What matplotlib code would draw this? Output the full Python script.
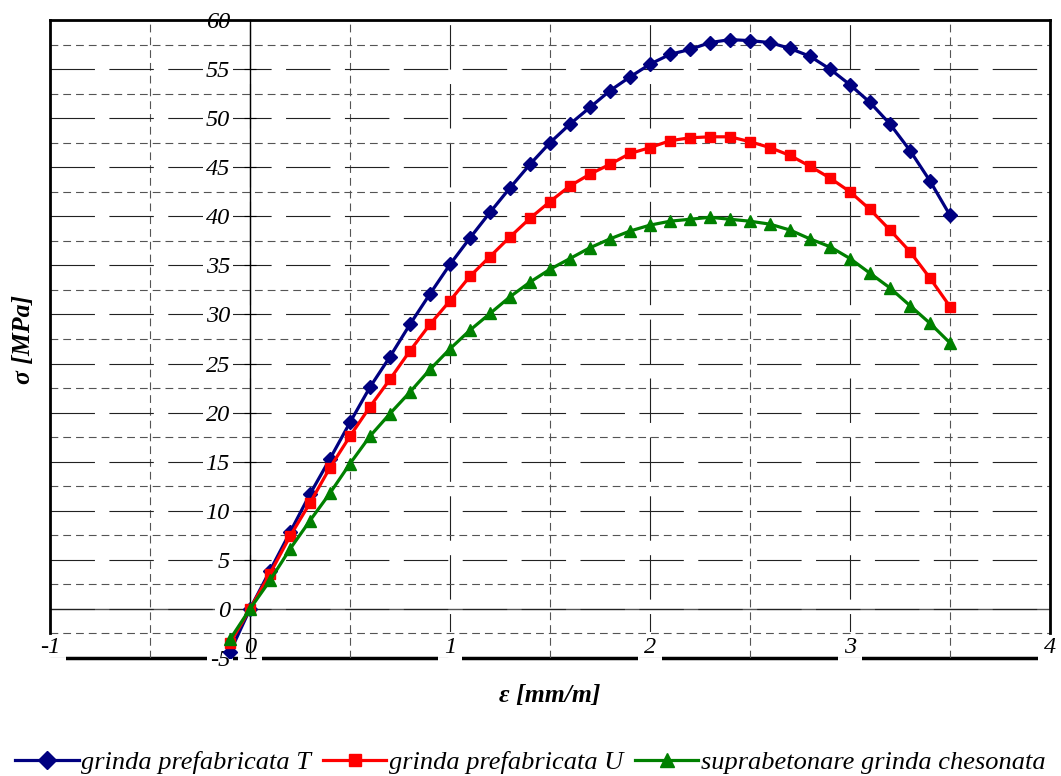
import matplotlib
matplotlib.use('Agg')
import matplotlib.pyplot as plt
from matplotlib.ticker import MultipleLocator

plt.rcParams['font.family'] = ['Liberation Serif', 'DejaVu Serif']
plt.rcParams['font.style'] = 'italic'

# date
eps = [-0.1, 0.0, 0.1, 0.2, 0.3, 0.4, 0.5, 0.6, 0.7, 0.8, 0.9,
       1.0, 1.1, 1.2, 1.3, 1.4, 1.5, 1.6, 1.7, 1.8, 1.9,
       2.0, 2.1, 2.2, 2.3, 2.4, 2.5, 2.6, 2.7, 2.8, 2.9,
       3.0, 3.1, 3.2, 3.3, 3.4, 3.5]

sigma_T = [-4.4, 0.0, 3.9, 7.8, 11.7, 15.3, 19.0, 22.6, 25.7, 29.0, 32.1,
           35.1, 37.8, 40.4, 42.9, 45.3, 47.5, 49.4, 51.1, 52.8, 54.2,
           55.5, 56.5, 57.0, 57.7, 58.0, 57.9, 57.7, 57.1, 56.3, 55.0,
           53.4, 51.6, 49.4, 46.7, 43.6, 40.1]

sigma_U = [-3.5, 0.0, 3.6, 7.4, 10.8, 14.4, 17.6, 20.6, 23.4, 26.3, 29.0,
           31.4, 33.9, 35.9, 37.9, 39.8, 41.5, 43.1, 44.3, 45.3, 46.4,
           47.0, 47.7, 48.0, 48.1, 48.1, 47.6, 47.0, 46.2, 45.1, 43.9,
           42.5, 40.7, 38.6, 36.4, 33.7, 30.8]

sigma_C = [-3.1, 0.0, 2.9, 6.1, 9.0, 11.8, 14.8, 17.6, 19.9, 22.1, 24.4,
           26.5, 28.4, 30.1, 31.8, 33.3, 34.6, 35.7, 36.8, 37.7, 38.5,
           39.1, 39.5, 39.7, 39.9, 39.7, 39.5, 39.2, 38.6, 37.7, 36.9,
           35.7, 34.2, 32.7, 30.9, 29.1, 27.1]

labels = ['grinda prefabricata T', 'grinda prefabricata U',
          'suprabetonare grinda chesonata']

x_ticks = [-1, 0, 1, 2, 3, 4]
y_ticks = [-5, 0, 5, 10, 15, 20, 25, 30, 35, 40, 45, 50, 55, 60]

fig = plt.figure(figsize=(10.61, 7.76), dpi=100)
ax = fig.add_axes([0.04713, 0.15206, 0.94251, 0.82217])

ax.plot(eps, sigma_T, color='#000080', lw=2.3, marker='D', ms=7.5, label=labels[0], zorder=3)
ax.plot(eps, sigma_U, color='#ff0000', lw=2.3, marker='s', ms=7.5, label=labels[1], zorder=3)
ax.plot(eps, sigma_C, color='#008000', lw=2.3, marker='^', ms=8.5, label=labels[2], zorder=3)

ax.set_xticks(x_ticks)
ax.set_xticklabels([str(v) for v in x_ticks])
ax.set_yticks(y_ticks)
ax.set_yticklabels([str(v) for v in y_ticks])
ax.xaxis.set_minor_locator(MultipleLocator(0.5))
ax.yaxis.set_minor_locator(MultipleLocator(2.5))
ax.set_xlim(-1, 4)
ax.set_ylim(-5, 60)

# grila
long_dash = (0, (40, 13))
short_dash = (0, (7, 4.5))
ax.grid(True, which='major', axis='both', color='#222222', lw=0.8, linestyle=long_dash)
ax.grid(True, which='minor', axis='both', color='#555555', lw=0.8, linestyle=short_dash)
xt = ax.xaxis.get_major_ticks()
xt[0].gridline.set_visible(False)
xt[-1].gridline.set_visible(False)
ax.axhline(0, color='#555555', lw=1.0, zorder=1.2)

# rama
for s in ['top', 'right', 'bottom']:
    ax.spines[s].set_visible(False)
ax.spines['left'].set_position(('data', 0))
ax.spines['left'].set_linewidth(1.0)
fr = 2.5 / 65
ax.axvline(-1, ymin=fr, ymax=1, color='black', lw=2, zorder=2.6, clip_on=False)
ax.axvline(4, ymin=fr, ymax=1, color='black', lw=2, zorder=2.6, clip_on=False)
ax.axhline(60, color='black', lw=2, zorder=2.6, clip_on=False)
ax.axhline(-5, color='black', lw=2.5, zorder=1.2, clip_on=False)

ax.tick_params(axis='x', which='both', length=0, pad=-15, labelsize=17.5)
ax.tick_params(axis='y', which='major', direction='inout', length=9, width=0.8, pad=10, labelsize=17.5)
ax.tick_params(axis='y', which='minor', length=0)
for lab in ax.get_xticklabels():
    lab.set_fontstyle('italic')
    lab.set_bbox(dict(facecolor='white', edgecolor='none', pad=4))
for lab in ax.get_yticklabels():
    lab.set_fontstyle('italic')
    lab.set_bbox(dict(facecolor='white', edgecolor='none', pad=2))

ax.set_xlabel('ε [mm/m]', fontsize=18.5, fontweight='bold')
ax.set_ylabel('σ [MPa]', fontsize=18.5, fontweight='bold')
ax.xaxis.set_label_coords(0.5, -0.040)
ax.yaxis.set_label_coords(-0.015, 0.5)

fig.legend(loc='lower center', bbox_to_anchor=(0.5, -0.02), ncol=3, frameon=False,
           prop=dict(family='Liberation Serif', style='italic', size=19),
           handlelength=2.4, handletextpad=0.1, columnspacing=0.45, numpoints=1,
           markerscale=1.2, borderaxespad=0.25)

fig.savefig('out.png', dpi=100)
